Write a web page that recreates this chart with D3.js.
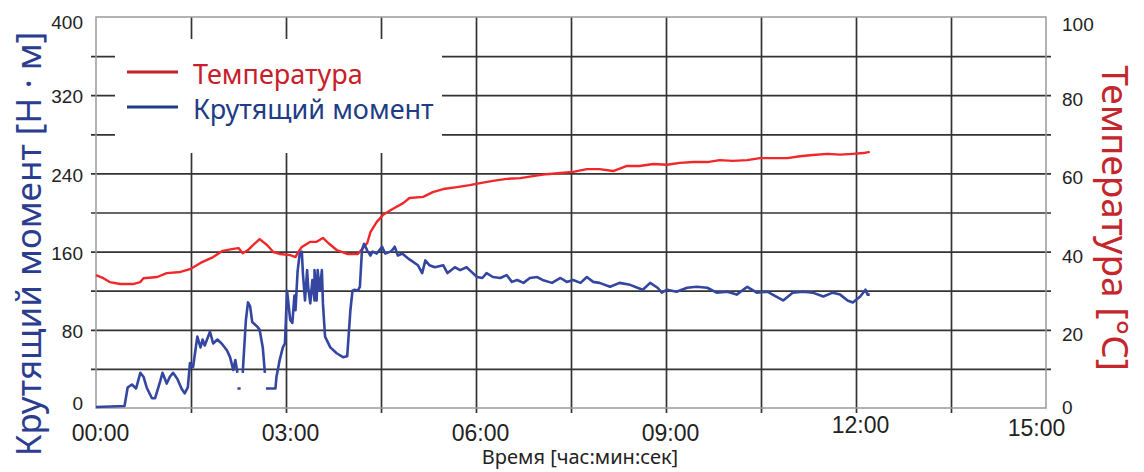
<!DOCTYPE html>
<html>
<head>
<meta charset="utf-8">
<script src="https://cdn.jsdelivr.net/npm/d3@7"></script>
<style>
  body { margin: 0; background: #fff; }
  svg { font-family: 'Noto Sans', sans-serif; }
</style>
</head>
<body>
<div id="chart"></div>
<script>
// time in seconds from start
const torqueTime = [0, 27, 30, 34, 38, 42, 45, 48, 53, 56, 61, 63, 67, 70, 73, 77, 81, 84, 87, 89, 92, 96, 99, 101, 103, 108, 111, 115, 119, 124, 127, 130, 132, 134,
  134, 134, 137, 137,
  139, 142, 144, 146, 148, 153, 155, 158, 160,
  160, 161, 170, 171, 174, 177, 179, 181, 183, 184, 186, 188, 189, 191, 193, 195, 196, 198, 200, 201, 203, 205, 207, 207, 209, 210, 212, 214, 215, 217,
  222, 228, 234, 238, 241, 243, 245, 248, 250, 252, 254, 257, 260, 262, 266, 271, 274, 279, 281, 283, 286, 290, 297, 305, 309, 312, 316, 321, 329, 333,
  340, 345, 351, 356, 361, 366, 370, 376, 383, 389, 394, 399, 405, 411, 418, 423, 432, 440, 446, 452, 459, 465, 471, 477, 487, 496, 506, 513, 518, 525,
  532, 536, 541, 550, 560, 569, 579, 588, 598, 607, 617, 626, 636, 641, 651, 660, 670, 679, 689, 698, 705, 712, 717, 724, 729, 731, 733];
const torqueNm = [1, 2, 21, 24, 20, 36, 32, 21, 10, 10, 28, 36, 25, 32, 36, 30, 20, 15, 21, 46, 42, 73, 62, 70, 64, 78, 66, 70, 66, 59, 52, 39, 49, 36,
  null, 20, 20, null,
  36, 90, 108, 104, 88, 83, 80, 62, 36,
  null, 20, 20, 32, 49, 62, 66, 120, 100, 90, 87, 115, 100, 140, 158, 160, 138, 110, 141, 124, 107, 131, 110, 141, 110, 141, 120, 141, 107, 73,
  62, 56, 52, 53, 100, 120, 121, 120, 124, 162, 168, 161, 156, 160, 158, 165, 158, 160, 162, 165, 156, 158, 152, 146, 138, 151, 146, 144, 146, 138,
  144, 141, 144, 139, 134, 133, 138, 134, 133, 136, 129, 131, 128, 133, 134, 131, 128, 133, 129, 131, 128, 134, 129, 128, 124, 128, 126, 123, 121, 128,
  123, 118, 121, 119, 123, 124, 123, 118, 119, 116, 124, 118, 119, 116, 110, 118, 119, 118, 114, 118, 116, 110, 108, 114, 121, 116, 116];

const tempTime = [0, 7, 13, 23, 35, 42, 45, 58, 67, 80, 89, 99, 111, 120, 130, 135, 139, 144, 149, 155, 162, 168, 174, 184, 189, 191, 195, 203, 209, 215,
  220, 228, 238, 248, 253, 257, 260, 266, 272, 281, 291, 297, 310, 319, 329, 342, 354, 364, 376, 389, 402, 414, 427, 440, 452, 465, 477, 490, 503, 515,
  528, 541, 553, 566, 579, 591, 603, 617, 629, 641, 655, 667, 679, 693, 705, 717, 727, 733];
const tempC = [34.0, 33.2, 32.2, 31.7, 31.7, 32.2, 33.2, 33.5, 34.5, 34.8, 35.5, 37.1, 38.6, 40.2, 40.7, 40.9, 39.6, 40.4, 41.7, 43.2, 41.7, 39.9, 39.4, 39.1, 38.6, 39.6, 41.2, 42.5, 42.5, 43.5,
  42.2, 40.4, 39.4, 39.4, 40.9, 42.2, 45.0, 47.6, 49.4, 50.9, 52.4, 53.7, 54.0, 55.2, 56.0, 56.5, 57.0, 57.5, 58.1, 58.6, 58.8, 59.3, 59.8, 60.1, 60.4, 61.1, 61.1, 60.6, 61.9, 61.9,
  62.4, 62.2, 62.7, 62.9, 62.9, 63.4, 63.2, 63.4, 63.9, 63.9, 63.9, 64.4, 64.7, 65.0, 64.8, 65.0, 65.2, 65.5];

const timeTicks = [0, 180, 360, 540, 720, 900];
const torqueTicks = [0, 80, 160, 240, 320, 400];
const tempTicks = [0, 20, 40, 60, 80, 100];
const legendNames = ['Температура', 'Крутящий момент'];

function mmss(s) {
  const m = Math.floor(s / 60);
  const sec = s % 60;
  return String(m).padStart(2, '0') + ':' + String(sec).padStart(2, '0');
}

function main() {
  const svgWidth = 1144;
  const svgHeight = 472;
  const margin = { top: 17, bottom: 64, left: 96, right: 98 };
  const chartWidth = svgWidth - margin.left - margin.right;
  const chartHeight = svgHeight - margin.top - margin.bottom;

  const svg = d3.select('#chart').append('svg')
    .attr('width', svgWidth)
    .attr('height', svgHeight);
  const chartGroup = svg.append('g').attr('transform', `translate(${margin.left}, ${margin.top})`);

  const xScale = d3.scaleLinear().domain([0, 900]).range([0, chartWidth]);
  const yTorque = d3.scaleLinear().domain([0, 400]).range([chartHeight, 0]);
  const yTemp = d3.scaleLinear().domain([0, 100]).range([chartHeight, 0]);

  // grid, sticking out a little past the frame like ticks
  const gridX = chartGroup.append('g')
    .attr('transform', `translate(0, ${chartHeight + 5})`)
    .call(d3.axisBottom(xScale).tickValues(d3.range(90, 900, 90)).tickSize(-(chartHeight + 5)).tickFormat(''));
  const gridY = chartGroup.append('g')
    .attr('transform', 'translate(-5, 0)')
    .call(d3.axisLeft(yTorque).tickValues(d3.range(40, 400, 40)).tickSize(-(chartWidth + 10)).tickFormat(''));
  [gridX, gridY].forEach(g => {
    g.select('.domain').remove();
    g.selectAll('line').attr('stroke', '#333').attr('stroke-width', 1.7);
  });

  chartGroup.append('rect')
    .attr('width', chartWidth)
    .attr('height', chartHeight)
    .attr('fill', 'none')
    .attr('stroke', '#9a9a9a')
    .attr('stroke-width', 1.5);

  // left axis
  const leftAxis = chartGroup.append('g')
    .call(d3.axisLeft(yTorque).tickValues(torqueTicks).tickSize(0).tickPadding(13));
  leftAxis.select('.domain').remove();
  leftAxis.selectAll('text').attr('font-size', '19px').attr('fill', '#222')
    .attr('dy', d => d === 400 ? '0.62em' : d === 0 ? '0.1em' : '0.4em');

  // right axis
  const rightAxis = chartGroup.append('g')
    .attr('transform', `translate(${chartWidth}, 0)`)
    .call(d3.axisRight(yTemp).tickValues(tempTicks).tickSize(0).tickPadding(16));
  rightAxis.select('.domain').remove();
  rightAxis.selectAll('text').attr('font-size', '19px').attr('fill', '#222')
    .attr('dy', d => d === 100 ? '0.7em' : d === 0 ? '0.3em' : '0.55em');

  // bottom axis
  const bottomAxis = chartGroup.append('g')
    .attr('transform', `translate(0, ${chartHeight})`)
    .call(d3.axisBottom(xScale).tickValues(timeTicks).tickSize(0).tickFormat(mmss));
  bottomAxis.select('.domain').remove();
  bottomAxis.selectAll('text').attr('font-size', '23px').attr('fill', '#222')
    .attr('y', d => d === 900 ? 28 : d === 720 ? 25 : 33).attr('dy', 0)
    .attr('dx', d => d === 900 ? -10 : 4);

  // legend box hides the grid behind it
  const legend = chartGroup.append('g');
  legend.append('rect')
    .attr('x', 115 - margin.left).attr('y', 39 - margin.top)
    .attr('width', 327).attr('height', 114)
    .attr('fill', '#fff');
  const legendColors = ['#c8202a', '#1f3c86'];
  legendNames.forEach((name, i) => {
    const ly = 72 - margin.top + i * 35;
    legend.append('line')
      .attr('x1', 127 - margin.left).attr('x2', 178 - margin.left)
      .attr('y1', ly).attr('y2', ly)
      .attr('stroke', legendColors[i]).attr('stroke-width', 3);
    legend.append('text')
      .attr('x', 193 - margin.left).attr('y', ly + 12)
      .attr('font-size', '27px')
      .attr('fill', legendColors[i])
      .text(name);
  });

  // data lines
  const torqueData = torqueTime.map((t, i) => [t, torqueNm[i]]);
  const tempData = tempTime.map((t, i) => [t, tempC[i]]);

  const torqueLine = d3.line()
    .defined(d => d[1] !== null)
    .x(d => xScale(d[0]))
    .y(d => yTorque(d[1]));
  const tempLine = d3.line()
    .x(d => xScale(d[0]))
    .y(d => yTemp(d[1]));

  chartGroup.append('path')
    .datum(tempData)
    .attr('d', tempLine)
    .attr('fill', 'none')
    .attr('stroke', '#f0282a')
    .attr('stroke-width', 2.4)
    .attr('stroke-linejoin', 'round');

  chartGroup.append('path')
    .datum(torqueData)
    .attr('d', torqueLine)
    .attr('fill', 'none')
    .attr('stroke', '#3446a0')
    .attr('stroke-width', 2.6)
    .attr('stroke-linejoin', 'round');

  // axis titles
  svg.append('text')
    .attr('transform', 'translate(41, 244) rotate(-90)')
    .attr('text-anchor', 'middle')
    .attr('font-size', '35px')
    .attr('fill', '#2b3d8f')
    .text('Крутящий момент [Н · м]');

  svg.append('text')
    .attr('transform', 'translate(1102, 218) rotate(90)')
    .attr('text-anchor', 'middle')
    .attr('font-size', '37px')
    .attr('fill', '#c4262d')
    .text('Температура [°C]');

  svg.append('text')
    .attr('x', 580).attr('y', 464)
    .attr('text-anchor', 'middle')
    .attr('font-size', '20px')
    .attr('fill', '#222')
    .text('Время [час:мин:сек]');
}

main();
</script>
</body>
</html>
